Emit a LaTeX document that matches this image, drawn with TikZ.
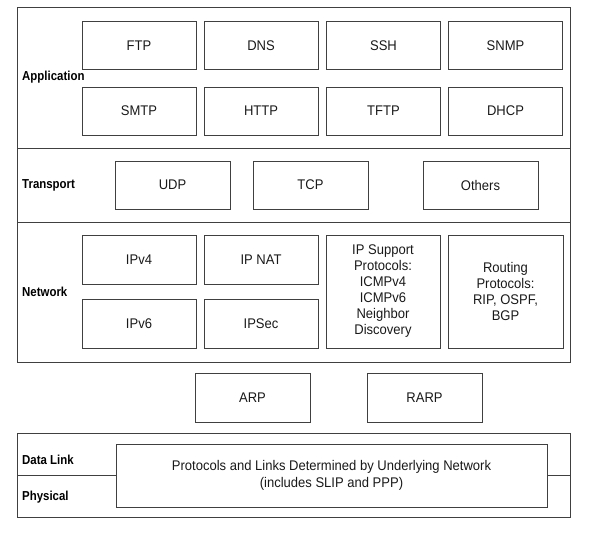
\documentclass[tikz,border=0pt]{standalone}
\usepackage{fontspec}
\setmainfont[FakeStretch=0.93]{Liberation Sans}
\newfontfamily\labfont[FakeStretch=0.88]{Liberation Sans}
\begin{document}
\begin{tikzpicture}[x=1pt,y=-1pt,
  frame/.style={draw=black!75,line width=1pt},
  pbox/.style={draw=black!75,line width=1pt,inner sep=0pt,align=center,
    font=\fontsize{14}{16}\selectfont,text=black!90},
  layer/.style={anchor=west,inner sep=0pt,font=\labfont\fontsize{13}{15}\selectfont\bfseries}]
\useasboundingbox (0,0) rectangle (597,535);
% layer frames
\draw[frame] (17,8) rectangle (570,148);
\draw[frame] (17,148) rectangle (570,222);
\draw[frame] (17,222) rectangle (570,362);
\draw[frame] (17,433) rectangle (570,517);
% layer labels
\node[layer] (lapp) at (22,77) {Application};
\node[layer] (ltr) at (22,185) {Transport};
\node[layer] (lnet) at (22,292) {Network};
\node[layer] (ldl) at (22,460) {Data Link};
\node[layer] (lph) at (22,497) {Physical};
% application
\foreach \n/\t/\x/\y in {ftp/FTP/139/46, dns/DNS/261/46, ssh/SSH/383.5/46, snmp/SNMP/505.5/46,
  smtp/SMTP/139/111, http/HTTP/261/111, tftp/TFTP/383.5/111, dhcp/DHCP/505.5/111}
  \node[pbox,minimum width=114,minimum height=48] (\n) at (\x,\y) {\t};
% transport
\node[pbox,minimum width=115,minimum height=48] (udp) at (172.5,185) {UDP};
\node[pbox,minimum width=115,minimum height=48] (tcp) at (310.5,185) {TCP};
\node[pbox,minimum width=115,minimum height=48] (oth) at (480.5,185) {Others};
% network
\node[pbox,minimum width=114,minimum height=49] (ipv4) at (139,259.5) {IPv4};
\node[pbox,minimum width=114,minimum height=49] (ipnat) at (261,259.5) {IP NAT};
\node[pbox,minimum width=114,minimum height=49] (ipv6) at (139,323.5) {IPv6};
\node[pbox,minimum width=114,minimum height=49] (ipsec) at (261,323.5) {IPSec};
\node[pbox,minimum width=114,minimum height=113] (ipsup) at (383,291.5)
  {IP Support\\Protocols:\\ICMPv4\\ICMPv6\\Neighbor\\Discovery};
\node[pbox,minimum width=115,minimum height=113] (rout) at (505.5,291.5)
  {Routing\\Protocols:\\RIP, OSPF,\\BGP};
% arp
\node[pbox,minimum width=115,minimum height=49] (arp) at (252.5,397.5) {ARP};
\node[pbox,minimum width=115,minimum height=49] (rarp) at (424.5,397.5) {RARP};
% data link / physical
\node[pbox,minimum width=431,minimum height=63,font=\fontsize{14}{17}\selectfont] (links) at (331.5,475.5)
  {Protocols and Links Determined by Underlying Network\\(includes SLIP and PPP)};
\coordinate (dl) at (17,475);
\coordinate (dr) at (570,475);
\draw[frame] (dl) -- (dl -| links.west);
\draw[frame] (links.east |- dr) -- (dr);
\end{tikzpicture}
\end{document}
